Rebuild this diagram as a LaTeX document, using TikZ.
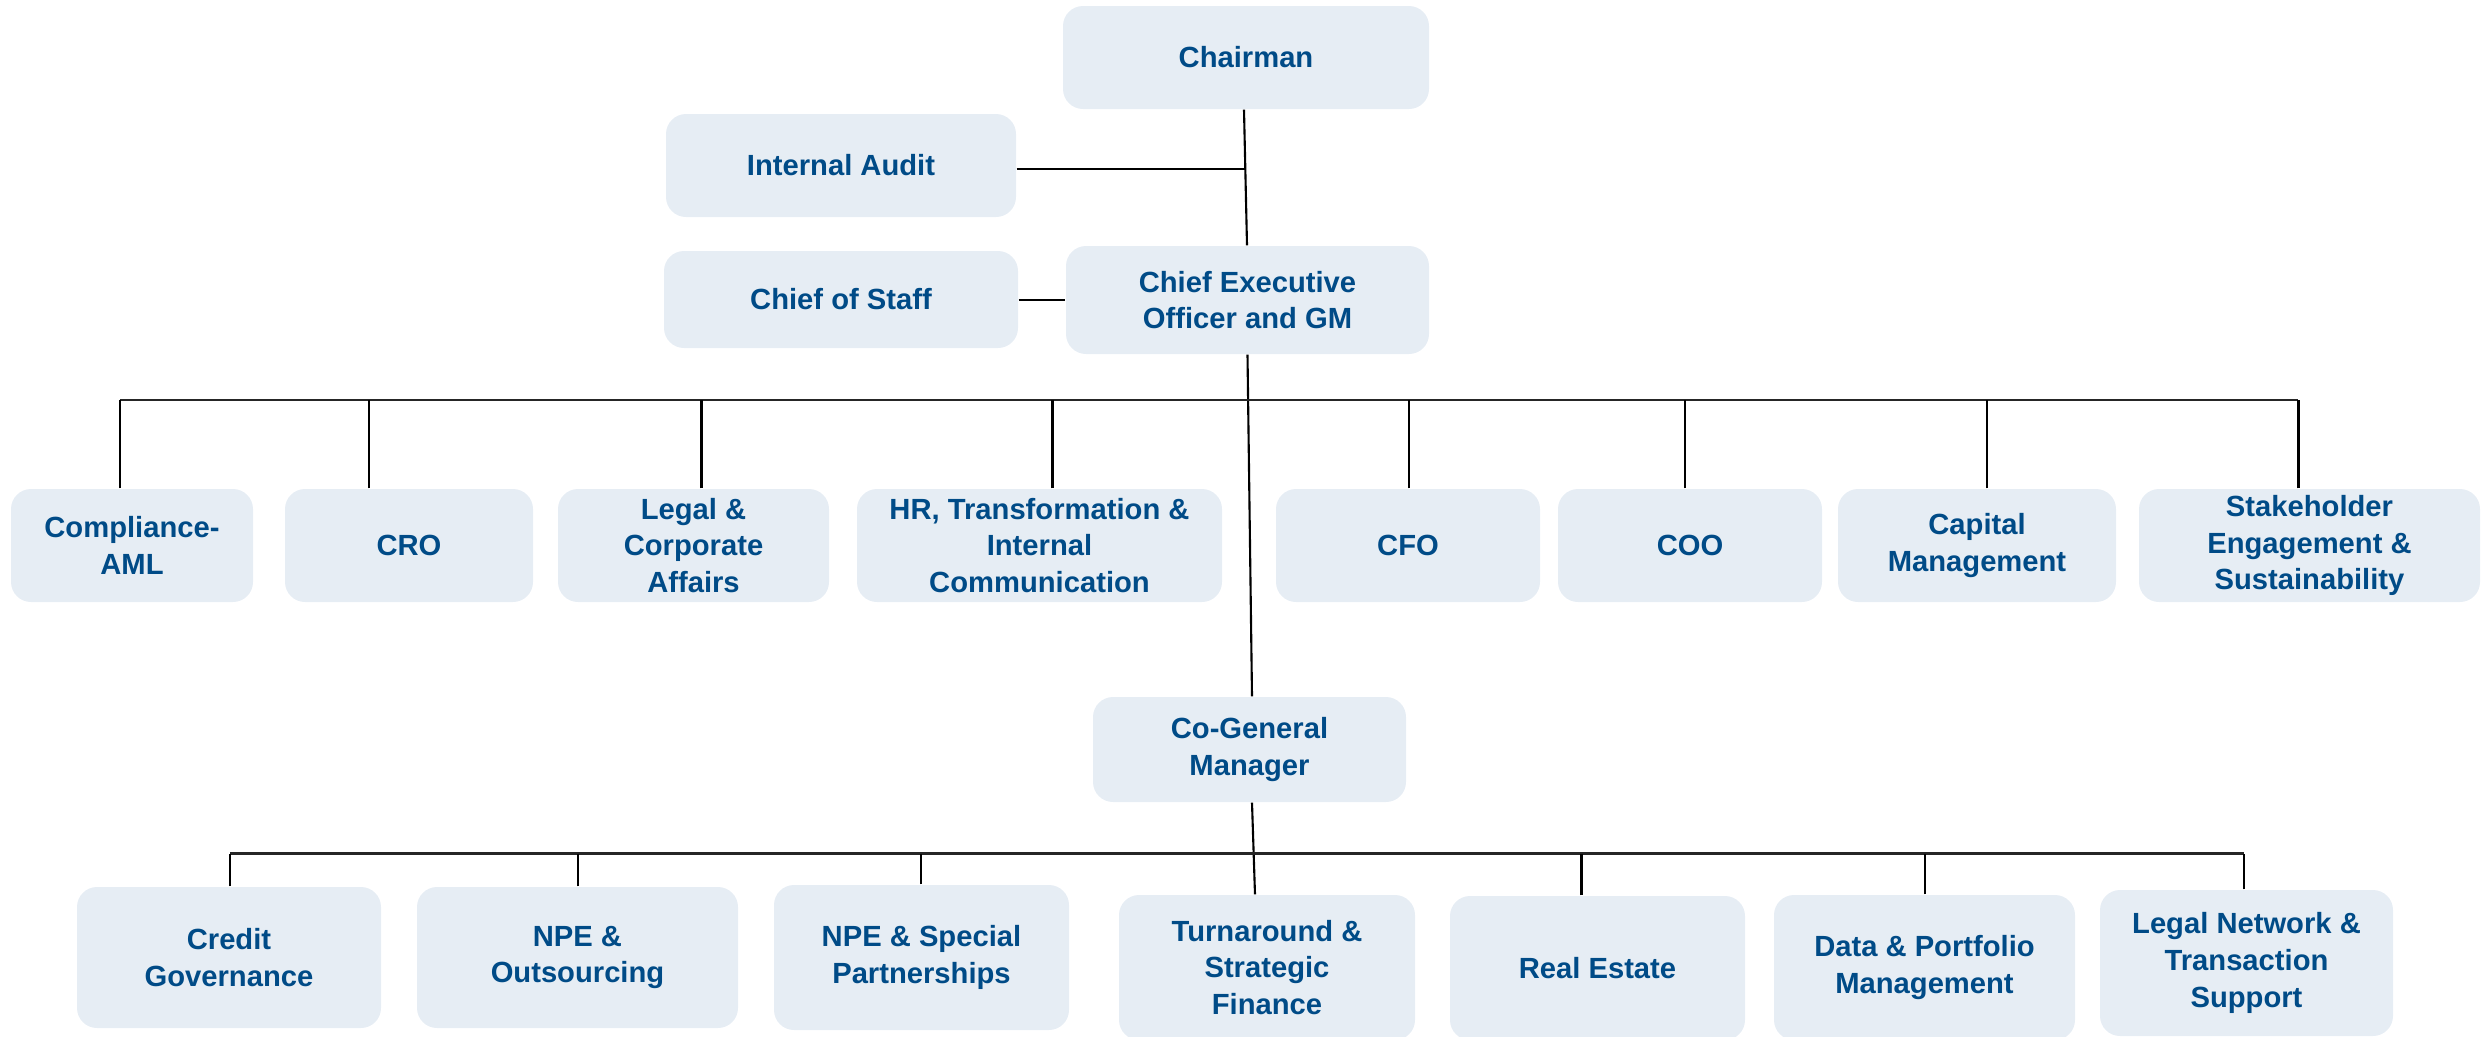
\documentclass[tikz,border=0pt]{standalone}
\usepackage{fontspec}
\setmainfont{Liberation Sans}
\usetikzlibrary{
    positioning,
    calc
}
\definecolor{boxfill}{RGB}{230,237,244}
\definecolor{textblue}{RGB}{0,75,135}
\tikzset{
    % Boxes
    unit box/.style={rounded corners=0.2cm,fill=boxfill,text=textblue,align=center,
        inner sep=0pt,font=\fontsize{8.3}{10.4}\selectfont\bfseries},
    boxsize/.style 2 args={unit box,minimum width=#1*0.01cm,minimum height=#2*0.01cm},
    %
    % Lines
    link/.style={black,line width=0.6pt},
    bus/.style={black!85,line width=0.8pt}
}
\begin{document}
\begin{tikzpicture}[x=0.01cm,y=-0.01cm]
        \useasboundingbox (0,0) rectangle (2481,1036);
        % top
        \node[boxsize={366}{103}] (chairman) at (1246,57.5) {Chairman};
        \node[boxsize={350}{103}] (audit) at (841,165.5) {Internal Audit};
        \node[boxsize={354}{97}] (staff) at (841,299.5) {Chief of Staff};
        \node[boxsize={363}{108}] (ceo) at (1247.5,300) {Chief Executive\\Officer and GM};
        % first row
        \node[boxsize={242}{113}] (compliance) at (132,545.5) {Compliance-\\AML};
        \node[boxsize={248}{113}] (cro) at (409,545.5) {CRO};
        \node[boxsize={271}{113}] (legal) at (693.5,545.5) {Legal \&\\Corporate\\Affairs};
        \node[boxsize={365}{113}] (hr) at (1039.5,545.5) {HR, Transformation \&\\Internal\\Communication};
        \node[boxsize={264}{113}] (cfo) at (1408,545.5) {CFO};
        \node[boxsize={264}{113}] (coo) at (1690,545.5) {COO};
        \node[boxsize={278}{113}] (capital) at (1977,545.5) {Capital\\Management};
        \node[boxsize={341}{113}] (stakeholder) at (2309.5,545.5) {Stakeholder\\Engagement \&\\Sustainability};
        % co-general manager and second row
        \node[boxsize={313}{105}] (cogm) at (1249.5,749.5) {Co-General\\Manager};
        \node[boxsize={304}{141}] (credit) at (229,957.5) {Credit\\Governance};
        \node[boxsize={321}{141}] (npeout) at (577.5,957.5) {NPE \&\\Outsourcing};
        \node[boxsize={295}{145}] (npespecial) at (921.5,957.5) {NPE \& Special\\Partnerships};
        \node[boxsize={296}{145}] (turnaround) at (1267,967.5) {Turnaround \&\\Strategic\\Finance};
        \node[boxsize={295}{144}] (realestate) at (1597.5,968) {Real Estate};
        \node[boxsize={301}{145}] (data) at (1924.5,967.5) {Data \& Portfolio\\Management};
        \node[boxsize={293}{146}] (legalnet) at (2246.5,963) {Legal Network \&\\Transaction\\Support};

        \coordinate (busone) at (0,400);
        \coordinate (bustwo) at (0,853.5);

        % chairman, staff lines and trunk
        \draw[link] ([xshift=-0.02cm]chairman.south) -- ([xshift=-0.005cm]ceo.north);
        \draw[link] ([yshift=-0.035cm]audit.east) -- ([yshift=-0.035cm]audit.east -| chairman.south);
        \draw[link] (staff.east |- ceo.west) -- (ceo.west);
        \draw[link] (ceo.south) -- ([xshift=0.025cm]cogm.north);
        \draw[link] ([xshift=0.025cm]cogm.south) -- ([xshift=-0.12cm]turnaround.north);

        % first row
        \draw[bus] ([xshift=-0.12cm]compliance.north |- busone) -- ([xshift=-0.115cm]stakeholder.north |- busone);
        \foreach \n/\dx in {compliance/-12,cro/-40,legal/8,hr/13,cfo/1,coo/-5,capital/10,stakeholder/-11}
            \draw[link] ([xshift=\dx*0.01cm]\n.north) -- ([xshift=\dx*0.01cm]\n.north |- busone);

        % second row
        \draw[bus] ([xshift=0.01cm]credit.north |- bustwo) -- ([xshift=-0.025cm]legalnet.north |- bustwo);
        \foreach \n/\dx in {credit/1,npeout/0.5,npespecial/-0.5,realestate/-16,data/0.5,legalnet/-2.5}
            \draw[link] ([xshift=\dx*0.01cm]\n.north) -- ([xshift=\dx*0.01cm]\n.north |- bustwo);
\end{tikzpicture}
\end{document}
